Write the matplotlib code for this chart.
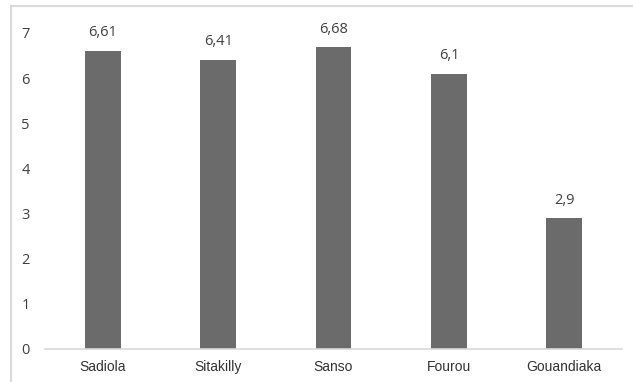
import matplotlib
matplotlib.use("Agg")
import matplotlib.pyplot as plt
from matplotlib.patches import Rectangle

categories = ["Sadiola", "Sitakilly", "Sanso", "Fourou", "Gouandiaka"]
values = [6.61, 6.41, 6.68, 6.1, 2.9]
value_labels = ["6,61", "6,41", "6,68", "6,1", "2,9"]
y_ticks = [0, 1, 2, 3, 4, 5, 6, 7]

W, H = 633, 382
fig = plt.figure(figsize=(W / 100, H / 100), dpi=100)
fig.patch.set_facecolor("white")

# outer chart-area frame (clipped at right and bottom edges)
fig.patches.append(Rectangle((11 / W, -0.05), 1.1, 1 - 6 / H + 0.05,
                             transform=fig.transFigure, fill=False,
                             edgecolor="#d9d9d9", linewidth=1.5))

ax = fig.add_axes([45 / W, (H - 349) / H, (622 - 45) / W, (349 - 33) / H])
x = range(len(categories))
ax.bar(x, values, width=0.31, color="#6b6b6b")
ax.set_xlim(-0.5, len(categories) - 0.5)
ax.set_ylim(0, 7)

for i, (v, lab) in enumerate(zip(values, value_labels)):
    ax.annotate(lab, (i, v), xytext=(0, 13), textcoords="offset points",
                ha="center", va="center", fontsize=10.5, color="#404040",
                family="Open Sans")

ax.set_yticks(y_ticks)
ax.set_yticklabels([str(t) for t in y_ticks], family="Open Sans",
                   fontsize=10.5, color="#404040")
ax.set_xticks(list(x))
ax.set_xticklabels(categories, family="Liberation Sans", fontsize=10,
                   color="#333333")
ax.tick_params(axis="both", length=0)
ax.tick_params(axis="y", pad=11)
ax.tick_params(axis="x", pad=8)

for side in ("top", "right", "left"):
    ax.spines[side].set_visible(False)
ax.spines["bottom"].set_color("#d9d9d9")
ax.spines["bottom"].set_linewidth(1.2)

fig.savefig("out.png", dpi=100)
